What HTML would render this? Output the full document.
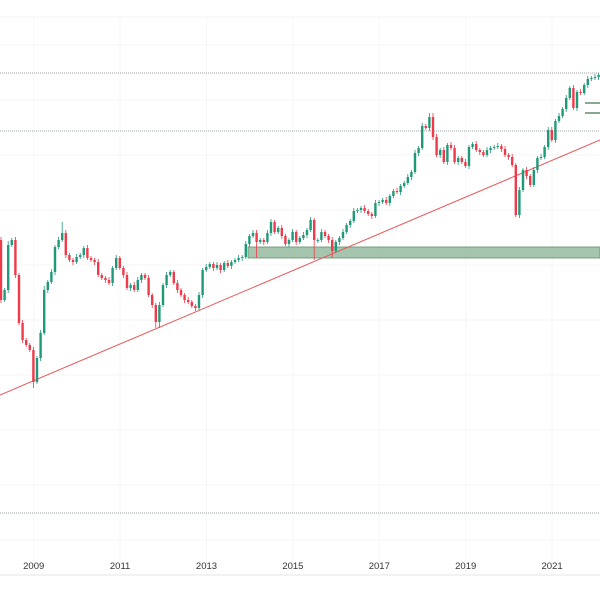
<!DOCTYPE html>
<html><head><meta charset="utf-8"><style>
html,body{margin:0;padding:0;background:#fff;width:600px;height:600px;overflow:hidden}
svg{display:block;font-family:"Liberation Sans",sans-serif}
</style></head><body>
<svg id="chart" width="600" height="600" viewBox="0 0 600 600" xmlns="http://www.w3.org/2000/svg">
<g id="grid"></g>
<g id="levels"></g>
<rect x="248" y="247" width="352" height="11" fill="#8fb79a" fill-opacity="0.8" stroke="#5f8f6b" stroke-width="0.8"/>
<line x1="0" y1="395" x2="600" y2="140" stroke="#e8585a" stroke-width="1"/>
<line x1="585" y1="103" x2="600" y2="103" stroke="#3d6b4a" stroke-width="1.2"/>
<line x1="585" y1="113" x2="600" y2="113" stroke="#3d6b4a" stroke-width="1.2"/>
<g id="candles"></g>
<line x1="0" y1="575" x2="600" y2="575" stroke="#e6e6e6" stroke-width="1"/>
<g id="xaxis"></g>
</svg>
<script>
const firstOpen = 320;
const closes = [260,270,315,320,285,237,220,215,210,178,
202,227,270,278,288,313,320,327,305,300,
298,303,305,312,302,300,298,285,282,280,
277,292,302,292,285,272,275,270,280,285,
282,265,255,238,255,275,285,288,277,270,
265,260,258,254,252,265,290,293,296,292,
295,290,297,294,298,300,302,303,316,324,
327,318,320,318,327,338,328,332,324,316,
320,328,318,322,325,330,340,320,320,328,
324,320,309,318,322,328,335,339,349,350,
352,349,346,344,357,358,360,357,364,369,
368,374,377,383,388,407,412,434,432,443,
423,405,410,398,415,412,398,402,398,394,
413,416,410,408,405,410,412,413,414,411,
405,403,395,345,370,390,384,375,390,402,
403,413,430,420,439,444,451,462,472,452,
468,467,475,481,482,483,485];
const wickUp = [3,2,4,2,3,2,3,2,2,3,
2,3,4,2,3,2,3,11,3,2,
2,3,2,2,3,2,2,3,2,2,
3,2,3,2,2,3,2,3,3,2,
2,3,2,2,3,2,3,2,2,3,
2,2,3,2,2,3,2,3,2,2,
3,2,2,3,2,2,3,2,3,2,
3,3,2,2,3,3,2,2,3,2,
2,3,2,2,3,2,3,2,2,3,
2,2,3,2,2,3,2,2,3,2,
2,3,2,2,3,2,2,3,2,2,
3,2,2,3,2,3,2,3,2,4,
4,3,2,3,2,3,3,2,2,3,
2,2,3,2,2,3,2,2,3,2,
3,2,3,2,3,2,3,2,3,2,
3,2,3,3,2,3,2,3,2,3,
2,3,2,3,2,3,2];
const wickDn = [3,2,3,2,3,2,3,2,2,6,
2,3,2,3,2,3,2,2,3,2,
3,2,2,3,2,2,3,2,2,3,
2,3,2,2,3,2,3,2,2,3,
2,2,3,6,6,2,3,2,2,3,
2,3,2,2,3,2,3,2,2,3,
2,3,2,2,3,2,2,3,2,3,
2,16,2,3,2,3,2,2,3,2,
3,2,3,2,2,3,2,20,3,2,
2,3,7,2,3,2,2,3,2,2,
3,2,2,3,2,3,2,2,3,2,
2,3,2,2,3,2,3,2,2,3,
3,2,3,2,3,2,2,3,2,2,
3,2,2,3,2,2,3,2,2,3,
2,3,2,2,3,2,3,2,2,3,
2,2,3,2,3,2,2,3,2,2,
3,2,2,3,2,2,3];
const yearLabels = ["2009","2011","2013","2015","2017","2019","2021"];
const yearIndex = [10,34,58,82,106,130,154];
const levelPrices = [487,429,47];

const NS="http://www.w3.org/2000/svg";
function xScale(i){return 1+3.6*i;}
function yScale(p){return 560-p;}

const grid=document.getElementById('grid');
for(let k=0;k<10;k++){
  const gy=45+55*k;
  const l=document.createElementNS(NS,'line');
  
  
  l.setAttribute('x1',0);l.setAttribute('x2',600);l.setAttribute('y1',gy);l.setAttribute('y2',gy);
  l.setAttribute('stroke','#f6f6f6');l.setAttribute('stroke-width','1');
  grid.appendChild(l);
}
const tl=document.createElementNS(NS,'line');


tl.setAttribute('x1',0);tl.setAttribute('x2',600);tl.setAttribute('y1',17);tl.setAttribute('y2',17);
tl.setAttribute('stroke','#f3f3f3');
grid.appendChild(tl);
yearIndex.forEach((idx,k)=>{
  const x=xScale(idx)-3.3;
  const l=document.createElementNS(NS,'line');
  
  
  l.setAttribute('x1',x);l.setAttribute('x2',x);l.setAttribute('y1',17);l.setAttribute('y2',575);
  l.setAttribute('stroke','#f6f6f6');
  grid.appendChild(l);
  const t=document.createElementNS(NS,'text');
  
  
  t.setAttribute('x',x);t.setAttribute('y',569);t.setAttribute('text-anchor','middle');
  t.setAttribute('font-size','9.5');t.setAttribute('fill','#333');
  t.textContent=yearLabels[k];
  document.getElementById('xaxis').appendChild(t);
});
const lv=document.getElementById('levels');
levelPrices.forEach(p=>{
  const l=document.createElementNS(NS,'line');
  
  
  l.setAttribute('x1',0);l.setAttribute('x2',600);l.setAttribute('y1',yScale(p));l.setAttribute('y2',yScale(p));
  l.setAttribute('stroke','#9aa4a8');l.setAttribute('stroke-width','1');l.setAttribute('stroke-dasharray','1 1');
  lv.appendChild(l);
});
const cg=document.getElementById('candles');
closes.forEach((c,i)=>{
  const o = i===0?firstOpen:closes[i-1];
  const up = c>=o;
  const col = up?'#1f9a78':'#ee3a4a';
  const x=xScale(i);
  const hi=Math.max(o,c)+wickUp[i], lo=Math.min(o,c)-wickDn[i];
  const w=document.createElementNS(NS,'line');
  
  
  w.setAttribute('x1',x);w.setAttribute('x2',x);w.setAttribute('y1',yScale(hi));w.setAttribute('y2',yScale(lo));
  w.setAttribute('stroke',col);w.setAttribute('stroke-width','0.8');
  cg.appendChild(w);
  const r=document.createElementNS(NS,'rect');
  
  
  const top=yScale(Math.max(o,c));
  r.setAttribute('x',x-1.2);r.setAttribute('width',2.4);
  r.setAttribute('y',top);r.setAttribute('height',Math.max(1,Math.abs(o-c)));
  r.setAttribute('fill',col);
  cg.appendChild(r);
});
</script>
</body></html>
